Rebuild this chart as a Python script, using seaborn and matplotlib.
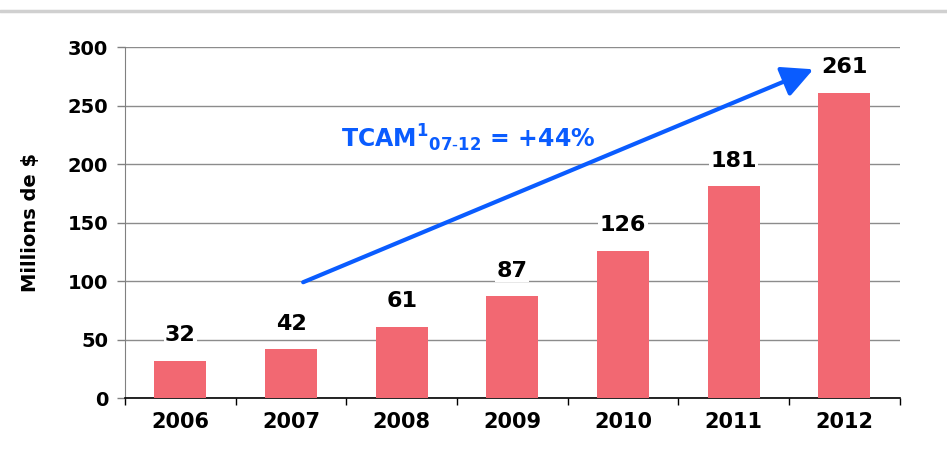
import pandas as pd
import numpy as np
import matplotlib.pyplot as plt
import seaborn as sns
from matplotlib.lines import Line2D

# data
years = ['2006', '2007', '2008', '2009', '2010', '2011', '2012']
values = [32, 42, 61, 87, 126, 181, 261]
growth_label = r'TCAM$^{\mathbf{1}}{}_{\mathbf{07\text{-}12}}$ = +44%'

df = pd.DataFrame({'year': years, 'value': values})

sns.set_style('white')
plt.rcParams['font.family'] = ['DejaVu Sans']
plt.rcParams['mathtext.fontset'] = 'dejavusans'
plt.rcParams['text.color'] = 'black'
plt.rcParams['xtick.color'] = 'black'
plt.rcParams['ytick.color'] = 'black'
plt.rcParams['axes.labelcolor'] = 'black'

fig = plt.figure(figsize=(9.47, 4.57), dpi=100)
ax = fig.add_axes([0.132, 0.129, 0.818, 0.768])

sns.barplot(data=df, x='year', y='value', color='#F26872', width=0.47,
            saturation=1, edgecolor='none', linewidth=0, ax=ax, zorder=3)

ax.set_ylim(0, 300)
ax.set_xlim(-0.49, 6.49)
ax.set_yticks(np.arange(0, 301, 50))
ax.yaxis.grid(True, color='#8c8c8c', linewidth=1)
ax.set_axisbelow(True)

# ticks between categories
ax.set_xticks(np.arange(len(years)))
ax.set_xticklabels(years, fontsize=15, fontweight='bold')
ax.set_xticks(np.arange(-0.5, len(years), 1), minor=True)
ax.tick_params(axis='x', which='major', bottom=False, length=0, pad=10)
ax.tick_params(axis='x', which='minor', bottom=True, length=5, width=1,
               color='black', direction='out')
ax.tick_params(axis='y', left=True, length=6, width=1, color='#808080',
               direction='out', labelsize=14, pad=6)
for lab in ax.get_yticklabels():
    lab.set_fontweight('bold')

for side in ['top', 'right']:
    ax.spines[side].set_visible(False)
ax.spines['left'].set_color('#808080')
ax.spines['bottom'].set_color('black')
ax.spines['bottom'].set_linewidth(1.2)

ax.set_xlabel('')
ax.set_ylabel('Millions de $', fontsize=14, fontweight='bold', labelpad=20)

ax.bar_label(ax.containers[0], labels=[str(v) for v in values], padding=11,
             fontsize=16, fontweight='bold',
             bbox=dict(facecolor='white', edgecolor='none', pad=1))

# growth arrow
ax.annotate('', xy=(5.72, 281), xytext=(1.11, 99),
            arrowprops=dict(arrowstyle='-|>,head_length=1.9,head_width=0.95',
                            color='#0A5CFF', linewidth=3, shrinkA=0, shrinkB=0),
            zorder=5)
ax.text(2.6, 222, growth_label, color='#0A5CFF', fontsize=17, fontweight='bold',
        ha='center', va='center', zorder=5)

# separator line at the top
fig.add_artist(Line2D([0, 1], [0.977, 0.977], color='#d0d0d0', linewidth=2.5,
                      transform=fig.transFigure))

plt.savefig('out.png', dpi=100)
